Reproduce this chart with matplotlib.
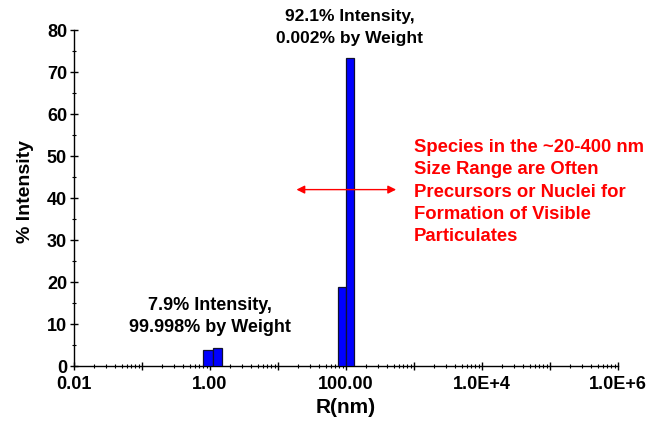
import matplotlib.pyplot as plt
import numpy as np
from matplotlib.ticker import FixedLocator, FuncFormatter, LogLocator, MultipleLocator

plt.rcParams['font.family'] = ['Liberation Sans', 'DejaVu Sans']
plt.rcParams['font.weight'] = 'bold'

# size distribution bins (nm) and % intensity
bin_left = [0.8, 1.1, 77.0, 100.0]
bin_right = [1.1, 1.5, 100.0, 132.0]
intensity = [3.7, 4.2, 18.7, 73.4]

xtick_vals = [1e-2, 1e-1, 1e0, 1e1, 1e2, 1e3, 1e4, 1e5, 1e6]
xtick_text = {1e-2: "0.01", 1e0: "1.00", 1e2: "100.00", 1e4: "1.0E+4", 1e6: "1.0E+6"}

big_label = "92.1% Intensity,\n0.002% by Weight"
small_label = "7.9% Intensity,\n99.998% by Weight"
red_note = ("Species in the ~20-400 nm\nSize Range are Often\n"
            "Precursors or Nuclei for\nFormation of Visible\nParticulates")
arrow_span = (17, 600)
arrow_y = 42

fig = plt.figure(figsize=(6.48, 4.25), dpi=100)
ax = fig.add_axes([0.1142, 0.1388, 0.8395, 0.7906])

left = np.array(bin_left)
width = np.array(bin_right) - left
ax.bar(left, intensity, width=width, align='edge', color='#0000ff',
       edgecolor='#101030', linewidth=0.9, zorder=3)

ax.set_xscale('log')
ax.set_xlim(1e-2, 1e6)
ax.set_ylim(0, 80)

ax.xaxis.set_major_locator(FixedLocator(xtick_vals))
ax.xaxis.set_major_formatter(FuncFormatter(lambda v, p: xtick_text.get(v, "")))
ax.xaxis.set_minor_locator(LogLocator(base=10, subs=np.arange(2, 10), numticks=20))
ax.yaxis.set_major_locator(MultipleLocator(10))
ax.yaxis.set_minor_locator(MultipleLocator(5))

ax.tick_params(axis='both', which='major', direction='inout', length=6, width=1,
               labelsize=13, pad=2)
ax.tick_params(axis='both', which='minor', direction='inout', length=3, width=0.8)
ax.tick_params(axis='x', which='major', pad=4)
for lab in ax.get_xticklabels() + ax.get_yticklabels():
    lab.set_fontweight('bold')

for s in ['top', 'right']:
    ax.spines[s].set_visible(False)
for s in ['left', 'bottom']:
    ax.spines[s].set_linewidth(1)

ax.set_xlabel("R(nm)", fontsize=15, fontweight='bold', labelpad=4)
ax.set_ylabel("% Intensity", fontsize=14, fontweight='bold')
ax.yaxis.set_label_coords(-0.073, 0.52)

ax.text(112, 80.6, big_label, ha='center', va='center', fontsize=12.5,
        fontweight='bold', linespacing=1.65, clip_on=False)
ax.text(1.0, 11.8, small_label, ha='center', va='center', fontsize=13,
        fontweight='bold', linespacing=1.45)
ax.text(1000, 41.4, red_note, ha='left', va='center', fontsize=13.3,
        fontweight='bold', color='#ff0000', linespacing=1.4)

ax.annotate("", xy=(arrow_span[0], arrow_y), xytext=(arrow_span[1], arrow_y),
            arrowprops=dict(arrowstyle='<|-|>', color='#ff0000', lw=1,
                            mutation_scale=12), zorder=4)

fig.savefig("out.png", dpi=100)
